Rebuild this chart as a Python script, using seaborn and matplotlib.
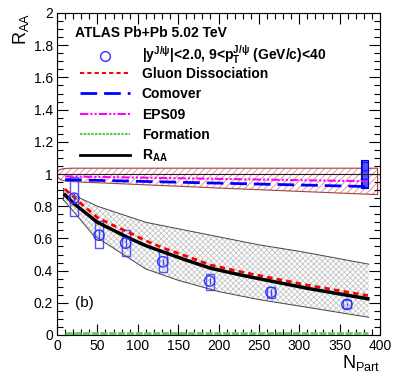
import numpy as np
import pandas as pd
import seaborn as sns
import matplotlib
matplotlib.use("Agg")
import matplotlib.pyplot as plt
from matplotlib.lines import Line2D
from matplotlib.ticker import MultipleLocator

# ---- data ----
npart = [21, 52, 85, 131, 189, 265, 359]
raa = [0.85, 0.62, 0.57, 0.455, 0.335, 0.265, 0.19]
stat = [0.03, 0.03, 0.03, 0.02, 0.02, 0.02, 0.01]
sys_lo = [0.74, 0.54, 0.49, 0.39, 0.28, 0.23, 0.165]
sys_hi = [0.98, 0.71, 0.65, 0.52, 0.38, 0.30, 0.215]

curve_x = [10, 20, 30, 50, 70, 90, 110, 132, 160, 190, 230, 265, 310, 350, 385]
raa_model = [0.87, 0.82, 0.78, 0.70, 0.65, 0.60, 0.555, 0.515, 0.465, 0.415, 0.37, 0.335, 0.29, 0.255, 0.225]
gluon = [0.905, 0.86, 0.815, 0.73, 0.68, 0.635, 0.585, 0.54, 0.49, 0.435, 0.39, 0.355, 0.31, 0.275, 0.245]

band_up_x = [8, 20, 50, 110, 150, 200, 250, 300, 386]
band_up = [0.91, 0.87, 0.80, 0.70, 0.66, 0.61, 0.56, 0.52, 0.44]
band_lo_x = [8, 20, 45, 110, 150, 200, 250, 300, 386]
band_lo = [0.84, 0.77, 0.62, 0.41, 0.34, 0.27, 0.22, 0.18, 0.11]

cnm_x = [0, 0.5, 1.5, 3, 5, 8, 12, 20, 100, 200, 300, 397]
cnm_up = [1.0, 1.012, 1.02, 1.026, 1.03, 1.033, 1.035, 1.036, 1.036, 1.036, 1.036, 1.036]
cnm_lo = [1.0, 0.988, 0.978, 0.97, 0.964, 0.959, 0.955, 0.952, 0.935, 0.913, 0.892, 0.872]

line_x = [10, 385]
comover = [0.965, 0.922]
eps09 = [0.985, 0.955]
formation = [0.008, 0.008]

glob_x = [377, 385]
glob_lo = 0.915
glob_hi = 1.09

plt.rcParams["font.family"] = ["Liberation Sans", "DejaVu Sans"]
plt.rcParams["mathtext.default"] = "regular"
plt.rcParams["hatch.linewidth"] = 0.6

fig = plt.figure(figsize=(4.07, 3.91), dpi=100)
ax = fig.add_axes([57 / 407, 56 / 391, 323 / 407, 322 / 391])

# CNM band (top)
ax.fill_between(cnm_x, cnm_lo, cnm_up, facecolor="none", edgecolor="#dd8888",
                hatch="/////", linewidth=0)
ax.fill_between(cnm_x, cnm_lo, cnm_up, facecolor="none", edgecolor="#a04040", linewidth=0.8)
ax.axhline(1.0, color="#222222", lw=0.8)

# gray model band
ax.fill_between(band_up_x, np.interp(band_up_x, band_lo_x, band_lo), band_up,
                facecolor="white", edgecolor="#c4c4c4", hatch="xxxxxx", linewidth=0)
ax.plot(band_up_x, band_up, color="#444444", lw=0.7)
ax.plot(band_lo_x, band_lo, color="#444444", lw=0.7)
ax.plot([band_up_x[0], band_lo_x[0]], [band_up[0], band_lo[0]], color="#444444", lw=0.7)

# global uncertainty
ax.fill_between(glob_x, glob_lo, glob_hi, facecolor="#5050ff", edgecolor="#0000dd",
                hatch="++", linewidth=0.8)

sns.lineplot(x=line_x, y=comover, color="#0000ff", lw=2, dashes=(6, 2.5), ax=ax)
sns.lineplot(x=line_x, y=eps09, color="#ff00ff", lw=1.5, dashes=(4, 1, 1, 1, 1, 1), ax=ax)
sns.lineplot(x=line_x, y=formation, color="#66cc66", lw=3.5, dashes=(1.5, 0.3), ax=ax)
sns.lineplot(x=curve_x, y=gluon, color="#ff0000", lw=2, dashes=(2, 1.5), ax=ax)
sns.lineplot(x=curve_x, y=raa_model, color="black", lw=2.5, ax=ax)

# data: systematic boxes, stat bars, points
ax.bar(npart, np.array(sys_hi) - np.array(sys_lo), bottom=sys_lo, width=10,
       fill=False, edgecolor="#5555ff", linewidth=1)
ax.errorbar(npart, raa, yerr=stat, fmt="none", ecolor="#4040ff", elinewidth=1)
sns.scatterplot(x=npart, y=raa, marker="o", s=55, facecolors="none",
                edgecolor="#3030ff", linewidth=1, ax=ax, zorder=5)

ax.set_xlim(0, 400)
ax.set_ylim(0, 2)
ax.xaxis.set_major_locator(MultipleLocator(50))
ax.xaxis.set_minor_locator(MultipleLocator(10))
ax.yaxis.set_major_locator(MultipleLocator(0.2))
ax.yaxis.set_minor_locator(MultipleLocator(0.05))
ax.set_yticks([0, 0.2, 0.4, 0.6, 0.8, 1, 1.2, 1.4, 1.6, 1.8, 2])
ax.set_yticklabels(["0", "0.2", "0.4", "0.6", "0.8", "1", "1.2", "1.4", "1.6", "1.8", "2"])
ax.tick_params(which="both", direction="in", top=True, right=True, labelsize=10, pad=3)
ax.tick_params(which="major", length=8, width=0.8)
ax.tick_params(which="minor", length=4, width=0.8)

ax.set_xlabel("N$_{Part}$", fontsize=13, loc="right", labelpad=0)
ax.set_ylabel("R$_{AA}$", fontsize=13, loc="top", labelpad=2)

ax.text(0.056, 0.938, "ATLAS Pb+Pb 5.02 TeV", transform=ax.transAxes,
        fontsize=10, fontweight="bold", va="center", ha="left")
ax.text(22, 0.2, "(b)", fontsize=11, va="center")

leg_kw = dict(loc="upper left", frameon=False, borderpad=0, borderaxespad=0,
              handlelength=3.6, handletextpad=0.85, labelspacing=0.45,
              prop={"weight": "bold", "size": 10})

data_handle = [Line2D([], [], ls="none", marker="o", mfc="none", mec="#3030ff", ms=7)]
data_label = ["$|y^{J/\\psi}|$<2.0, 9<$p_{T}^{J/\\psi}$ (GeV/c)<40"]
leg1 = ax.legend(data_handle, data_label, bbox_to_anchor=(0.071, 0.905), **leg_kw)
ax.add_artist(leg1)

handles = [
    Line2D([], [], color="#ff0000", lw=1.5, dashes=(2, 1.5)),
    Line2D([], [], color="#0000ff", lw=2, dashes=(6, 2.5)),
    Line2D([], [], color="#ff00ff", lw=1.5, dashes=(4, 1, 1, 1, 1, 1)),
    Line2D([], [], color="#55cc55", lw=1.5, dashes=(1.2, 0.6)),
    Line2D([], [], color="black", lw=2),
]
labels = ["Gluon Dissociation", "Comover", "EPS09", "Formation", "R$_{AA}$"]
ax.legend(handles, labels, bbox_to_anchor=(0.071, 0.832), **leg_kw)

fig.savefig("out.png", dpi=100)
